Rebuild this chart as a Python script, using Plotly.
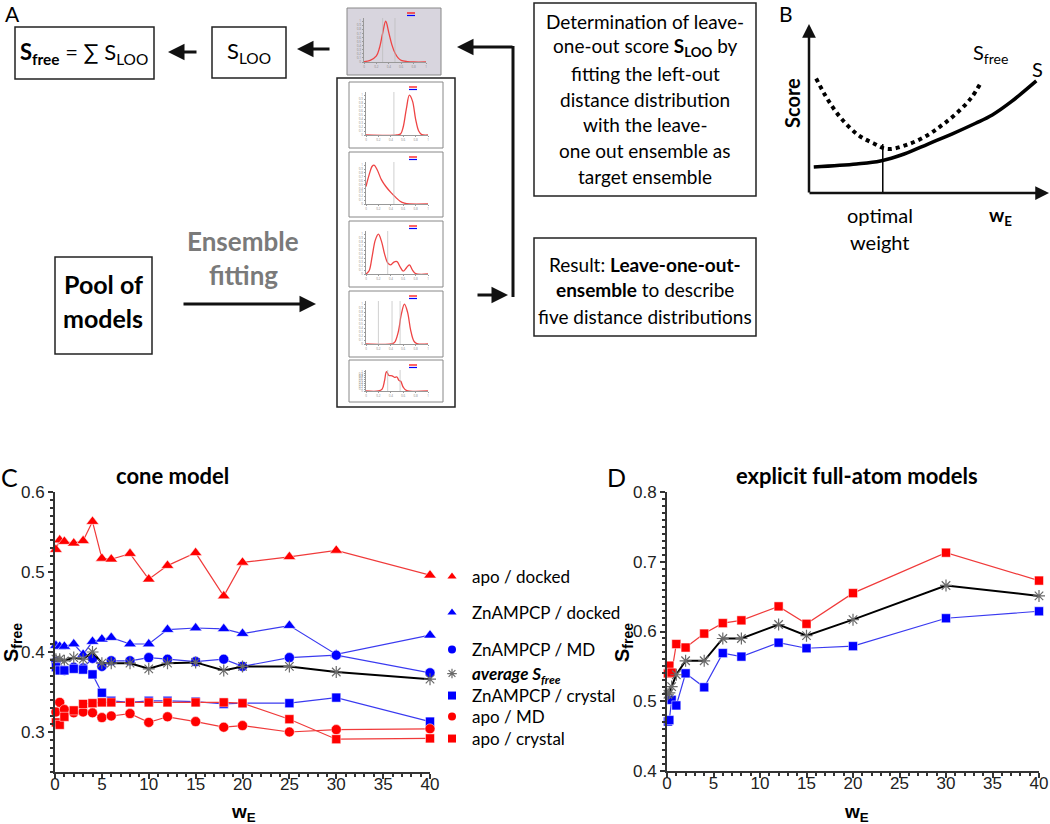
import plotly.graph_objects as go

W, H = 1050, 824
FONT = "Lato, 'Open Sans', sans-serif"
AXFONT = "Arial, 'Liberation Sans', sans-serif"

# ---- panel C: cone model ----
we_cone = [0.1, 0.5, 1, 2, 3, 4, 5, 6, 8, 10, 12, 15, 18, 20, 25, 30, 40]
apo_docked = [0.528, 0.540, 0.538, 0.536, 0.539, 0.563, 0.517, 0.516, 0.523, 0.491, 0.508, 0.524, 0.470, 0.512, 0.519, 0.527, 0.496]
zn_docked = [0.408, 0.407, 0.407, 0.410, 0.397, 0.413, 0.416, 0.418, 0.410, 0.410, 0.428, 0.430, 0.429, 0.423, 0.433, 0.397, 0.421]
zn_md = [0.388, 0.378, 0.377, 0.381, 0.380, 0.392, 0.382, 0.389, 0.389, 0.393, 0.391, 0.388, 0.391, 0.382, 0.393, 0.396, 0.374]
avg_cone = [0.391, 0.391, 0.389, 0.393, 0.391, 0.400, 0.386, 0.386, 0.386, 0.379, 0.386, 0.387, 0.377, 0.382, 0.382, 0.375, 0.366]
zn_crystal = [0.381, 0.377, 0.377, 0.379, 0.378, 0.372, 0.349, 0.339, 0.337, 0.339, 0.339, 0.338, 0.335, 0.336, 0.336, 0.343, 0.313]
apo_md = [0.325, 0.337, 0.328, 0.324, 0.325, 0.324, 0.318, 0.320, 0.323, 0.312, 0.319, 0.313, 0.306, 0.308, 0.300, 0.303, 0.304]
apo_crystal = [0.312, 0.309, 0.319, 0.327, 0.335, 0.336, 0.337, 0.337, 0.337, 0.337, 0.337, 0.337, 0.337, 0.336, 0.316, 0.291, 0.292]

# ---- panel D: explicit full-atom models ----
we_atom = [0.1, 0.25, 0.5, 1, 2, 4, 6, 8, 12, 15, 20, 30, 40]
atom_apo = [0.540, 0.551, 0.541, 0.582, 0.577, 0.597, 0.612, 0.616, 0.636, 0.611, 0.655, 0.713, 0.673]
atom_zn = [0.471, 0.473, 0.502, 0.494, 0.540, 0.520, 0.569, 0.564, 0.584, 0.576, 0.579, 0.619, 0.629]
atom_avg = [0.510, 0.512, 0.521, 0.538, 0.558, 0.558, 0.590, 0.590, 0.610, 0.594, 0.617, 0.666, 0.651]

# ---- panel B: schematic score curves ----
b_s_x = [0.2, 2, 3, 4, 5, 6, 7, 7.7, 8.5, 9.55]
b_s_y = [1.57, 1.75, 1.93, 2.35, 2.95, 3.55, 4.2, 4.7, 5.5, 6.75]
b_free_x = [0.3, 0.8, 1.35, 2.06, 2.7, 3.3, 4.2, 5.0, 5.6, 6.2, 6.8, 7.2]
b_free_y = [6.9, 5.6, 4.5, 3.5, 3.0, 2.65, 2.95, 3.5, 4.1, 4.8, 5.7, 6.6]
b_opt = 3.1

# ---- panel A: small distance distributions ----
mini_x = [
    [0, 0.1, 0.2, 0.25, 0.3, 0.35, 0.4, 0.45, 0.5, 0.55, 0.6, 0.7, 0.8, 1.0],
    [0, 0.5, 0.56, 0.6, 0.65, 0.7, 0.75, 0.8, 0.85, 0.9, 1.0],
    [0, 0.05, 0.1, 0.13, 0.18, 0.25, 0.32, 0.4, 0.48, 0.55, 0.62, 0.7, 1.0],
    [0, 0.05, 0.1, 0.15, 0.2, 0.25, 0.3, 0.35, 0.4, 0.45, 0.5, 0.55, 0.6, 0.65, 0.7, 0.75, 0.8, 1.0],
    [0, 0.4, 0.46, 0.52, 0.57, 0.62, 0.67, 0.72, 0.77, 0.82, 1.0],
    [0, 0.2, 0.26, 0.3, 0.33, 0.37, 0.42, 0.46, 0.5, 0.53, 0.56, 0.6, 0.65, 1.0],
]
mini_y = [
    [0.01, 0.04, 0.15, 0.35, 0.7, 1.0, 0.72, 0.42, 0.22, 0.1, 0.04, 0.01, 0, 0],
    [0, 0, 0.03, 0.2, 0.65, 1.0, 0.85, 0.4, 0.1, 0.01, 0],
    [0.45, 0.75, 0.97, 1.0, 0.88, 0.62, 0.45, 0.3, 0.17, 0.07, 0.02, 0, 0],
    [0, 0.08, 0.45, 0.85, 1.0, 0.82, 0.5, 0.28, 0.23, 0.3, 0.31, 0.18, 0.07, 0.15, 0.23, 0.1, 0.01, 0],
    [0, 0, 0.04, 0.3, 0.75, 1.0, 0.8, 0.35, 0.08, 0.01, 0],
    [0, 0, 0.1, 0.55, 1.0, 0.8, 0.78, 0.7, 0.72, 0.55, 0.5, 0.2, 0.03, 0],
]
mini_guides = [[0.3, 0.5], [0.45], [0.45], [0.35], [0.2, 0.42, 0.55], [0.35, 0.55]]


def px(x):
    return x / W


def py(y):
    return 1 - y / H


fig = go.Figure()

STAR = '#6a6a6a'
red_line = dict(color='#f03a3a', width=1.2)
blue_line = dict(color='#3a3af0', width=1.2)
series_c = [
    (apo_docked, 'apo / docked', 'triangle-up', 'red', red_line, 11),
    (zn_docked, 'ZnAMPCP / docked', 'triangle-up', 'blue', blue_line, 11),
    (zn_md, 'ZnAMPCP / MD', 'circle', 'blue', blue_line, 10),
    (avg_cone, '<b><i>average S<sub>free</sub></i></b>', 'asterisk-open', STAR, dict(color='black', width=2), 10),
    (zn_crystal, 'ZnAMPCP / crystal', 'square', 'blue', blue_line, 9),
    (apo_md, 'apo / MD', 'circle', 'red', red_line, 10),
    (apo_crystal, 'apo / crystal', 'square', 'red', red_line, 9),
]
legend_rows = [577, 613, 650, 674, 696, 717, 739]


def marker(sym, col, size, outline=True):
    if sym == 'asterisk-open':
        return dict(symbol=sym, size=size, color=col, line=dict(color=col, width=1.2))
    if outline:
        return dict(symbol=sym, size=size, color=col, line=dict(color='white', width=0.5))
    return dict(symbol=sym, size=size, color=col)


for vals, name, sym, col, ln, size in series_c:
    fig.add_trace(go.Scatter(x=we_cone, y=vals, mode='lines+markers', line=ln, marker=marker(sym, col, size),
                             showlegend=False, cliponaxis=False, xaxis='x', yaxis='y'))
for k, (vals, name, sym, col, ln, size) in enumerate(series_c):
    fig.add_trace(go.Scatter(x=[None], y=[None], mode='markers', marker=marker(sym, col, 8, outline=False),
                             name=name, legend='legend' if k == 0 else 'legend%d' % (k + 1),
                             xaxis='x', yaxis='y'))

# D traces
for vals, sym, col, ln, size in [
    (atom_zn, 'square', 'blue', blue_line, 9),
    (atom_apo, 'square', 'red', red_line, 9),
    (atom_avg, 'asterisk-open', STAR, dict(color='black', width=2), 10),
]:
    fig.add_trace(go.Scatter(x=we_atom, y=vals, mode='lines+markers', line=ln, marker=marker(sym, col, size),
                             showlegend=False, cliponaxis=False, xaxis='x2', yaxis='y2'))

# invisible copies so the label-only overlay axes get drawn
fig.add_trace(go.Scatter(x=we_cone, y=avg_cone, mode='markers', marker=dict(opacity=0), hoverinfo='skip',
                         showlegend=False, xaxis='x10', yaxis='y'))
fig.add_trace(go.Scatter(x=we_atom, y=atom_avg, mode='markers', marker=dict(opacity=0), hoverinfo='skip',
                         showlegend=False, xaxis='x11', yaxis='y2'))

# B traces
fig.add_trace(go.Scatter(x=b_free_x, y=b_free_y, mode='lines', line=dict(color='black', width=4, dash='dot', shape='spline'),
                         showlegend=False, xaxis='x3', yaxis='y3'))
fig.add_trace(go.Scatter(x=b_s_x, y=b_s_y, mode='lines', line=dict(color='black', width=3.5, shape='spline'),
                         showlegend=False, xaxis='x3', yaxis='y3'))

# A mini plots
mini_boxes = [(347, 8, 441, 75), (349, 82, 443, 148), (349, 152, 443, 217),
              (349, 221, 443, 287), (349, 291, 443, 357), (349, 360, 443, 402)]
shapes = []
for i, (xs, ys) in enumerate(zip(mini_x, mini_y)):
    n = i + 4
    fig.add_trace(go.Scatter(x=xs, y=ys, mode='lines', line=dict(color='#ee4444', width=1.3, shape='spline'),
                             showlegend=False, xaxis='x%d' % n, yaxis='y%d' % n))
    for g in mini_guides[i]:
        shapes.append(dict(type='line', xref='x%d' % n, yref='y%d domain' % n, x0=g, x1=g, y0=0, y1=1,
                           line=dict(color='#bbbbbb', width=0.7)))

layout_axes = {}
ax_common = dict(showgrid=False, zeroline=False, showline=True, linecolor='#333', linewidth=1.8,
                 ticks='outside', ticklen=5, tickwidth=1.5, tickcolor='#333', automargin=False,
                 tickfont=dict(family=AXFONT, size=17, color='#222'))
lab_common = dict(showgrid=False, zeroline=False, showline=False, ticks='', automargin=False,
                  tickfont=dict(family=AXFONT, size=17, color='#222'))
xr_c, xr_d = [px(55), px(430)], [px(667), px(1039)]
layout_axes['xaxis'] = dict(ax_common, domain=xr_c, range=[0, 40], dtick=5, anchor='y', showticklabels=False,
                            minor=dict(dtick=1, ticks='outside', ticklen=3, tickcolor='#333'))
layout_axes['yaxis'] = dict(ax_common, domain=[py(772), py(492)], range=[0.25, 0.6], tickvals=[0.3, 0.4, 0.5, 0.6],
                            tickformat='.1f', anchor='x',
                            minor=dict(dtick=0.01, ticks='outside', ticklen=3, tickcolor='#333'))
layout_axes['xaxis2'] = dict(ax_common, domain=xr_d, range=[0, 40], dtick=5, anchor='y2', showticklabels=False,
                             minor=dict(dtick=1, ticks='outside', ticklen=3, tickcolor='#333'))
layout_axes['yaxis2'] = dict(ax_common, domain=[py(771), py(492)], range=[0.4, 0.8], dtick=0.1, tickformat='.1f',
                             anchor='x2', minor=dict(dtick=0.01, ticks='outside', ticklen=3, tickcolor='#333'))
# label-only axes so the x tick labels sit close to the axis line
layout_axes['xaxis10'] = dict(lab_common, domain=xr_c, range=[0, 40], dtick=5, anchor='y', overlaying='x')
layout_axes['xaxis11'] = dict(lab_common, domain=xr_d, range=[0, 40], dtick=5, anchor='y2', overlaying='x2')
layout_axes['xaxis3'] = dict(domain=[px(809), px(1047)], range=[0, 10], visible=False, anchor='y3', automargin=False)
layout_axes['yaxis3'] = dict(domain=[py(193), py(27)], range=[0, 10], visible=False, anchor='x3', automargin=False)

shapes.append(dict(type='line', xref='x3', yref='y3', x0=b_opt, x1=b_opt, y0=-0.6, y1=2.95,
                   line=dict(color='black', width=1.5)))

for i, (x0, y0, x1, y1) in enumerate(mini_boxes):
    n = i + 4
    fill = '#d8d5de' if i == 0 else 'white'
    shapes.append(dict(type='rect', xref='paper', yref='paper', x0=px(x0), x1=px(x1), y0=py(y1), y1=py(y0),
                       line=dict(color='#888', width=1), fillcolor=fill, layer='below'))
    bot = y1 - 13 if i < 5 else y1 - 11
    layout_axes['xaxis%d' % n] = dict(domain=[px(x0 + 17), px(x1 - 15)], range=[0, 1], anchor='y%d' % n,
                                      showgrid=False, zeroline=False, showline=True, linecolor='#999', linewidth=0.8,
                                      ticks='outside', ticklen=1.5, tickcolor='#999', dtick=0.2, automargin=False,
                                      tickfont=dict(size=3, color='#888'))
    layout_axes['yaxis%d' % n] = dict(domain=[py(bot), py(y0 + 10)], range=[0, 1.08], anchor='x%d' % n,
                                      showgrid=False, zeroline=False, showline=True, linecolor='#999', linewidth=0.8,
                                      ticks='outside', ticklen=1.5, tickcolor='#999', dtick=0.1, automargin=False,
                                      tickfont=dict(size=3, color='#888'))
    # tiny legend swatches
    shapes.append(dict(type='line', xref='paper', yref='paper', x0=px(x1 - 34), x1=px(x1 - 26),
                       y0=py(y0 + 5), y1=py(y0 + 5), line=dict(color='red', width=1.2)))
    shapes.append(dict(type='line', xref='paper', yref='paper', x0=px(x1 - 34), x1=px(x1 - 26),
                       y0=py(y0 + 7.5), y1=py(y0 + 7.5), line=dict(color='blue', width=1.2)))

# boxes of the flow diagram
for (x0, y0, x1, y1) in [(15, 27, 154, 79), (212, 27, 286, 78), (337, 78, 455, 407),
                         (534, 3, 756, 196), (534, 238, 756, 336), (55, 257, 152, 354)]:
    shapes.append(dict(type='rect', xref='paper', yref='paper', x0=px(x0), x1=px(x1), y0=py(y1), y1=py(y0),
                       line=dict(color='#222', width=1.5)))
shapes.append(dict(type='line', xref='paper', yref='paper', x0=px(513), x1=px(513), y0=py(297), y1=py(46),
                   line=dict(color='#111', width=3)))

ann = []


def txt(x, y, s, size, color='black', family=FONT, xanchor='center', angle=0):
    ann.append(dict(x=px(x), y=py(y), xref='paper', yref='paper', text=s, showarrow=False,
                    font=dict(size=size, family=family, color=color), xanchor=xanchor, yanchor='middle',
                    textangle=angle))


def arrow(tx, ty, fx, fy, width=3):
    ann.append(dict(x=px(tx), y=py(ty), xref='paper', yref='paper', ax=fx - tx, ay=fy - ty, text='',
                    showarrow=True, arrowhead=2, arrowsize=1.1, arrowwidth=width, arrowcolor='#111'))


# panel labels
txt(12, 14, 'A', 21)
txt(786, 14, 'B', 21)
txt(9, 477, 'C', 25)
txt(616, 477, 'D', 25)

# panel A texts
txt(84, 53, '<b>S<sub>free</sub></b> = ∑ S<sub>LOO</sub>', 22)
txt(249, 52, 'S<sub>LOO</sub>', 22)
det_lines = ['Determination of leave-', 'one-out score <b>S<sub>LOO</sub></b> by', 'fitting the left-out',
             'distance distribution', 'with the leave-', 'one out ensemble as', 'target ensemble']
for k, s in enumerate(det_lines):
    txt(645, 21 + 26 * k, s, 19)
res_lines = ['Result: <b>Leave-one-out-</b>', '<b>ensemble</b> to describe', 'five distance distributions']
for k, s in enumerate(res_lines):
    txt(645, 264 + 26 * k, s, 19)
txt(103, 284, '<b>Pool of</b>', 25)
txt(103, 318, '<b>models</b>', 25)
txt(243, 241, '<b>Ensemble</b>', 26, color='#7a7a7a')
txt(243, 275, '<b>fitting</b>', 26, color='#7a7a7a')

arrow(168, 52, 198, 52)
arrow(297, 49, 331, 49)
arrow(457, 47, 514, 47)
arrow(508, 295, 476, 295)
arrow(316, 304, 182, 304)

# panel B texts and axes
arrow(809, 24, 809, 194, width=2.5)
arrow(1049, 193, 808, 193, width=2.5)
txt(792, 103, '<b>Score</b>', 20, angle=-90)
txt(880, 215, 'optimal', 20)
txt(880, 242, 'weight', 20)
txt(1000, 216, '<b>w<sub>E</sub></b>', 19)
txt(990, 54, 'S<sub>free</sub>', 20)
txt(1037, 69, 'S', 20)

# panel C/D titles and axis titles
txt(173, 475, '<b>cone model</b>', 22)
txt(857, 475, '<b>explicit full-atom models</b>', 22)
txt(12, 643, '<b>S<sub>free</sub></b>', 20, family=AXFONT, angle=-90)
txt(623, 643, '<b>S<sub>free</sub></b>', 20, family=AXFONT, angle=-90)
txt(243, 813, '<b>w<sub>E</sub></b>', 19, family=AXFONT)
txt(856, 813, '<b>w<sub>E</sub></b>', 19, family=AXFONT)

leg_common = dict(font=dict(family=FONT, size=17, color='black'), bgcolor='rgba(0,0,0,0)',
                  xanchor='left', x=px(432), yanchor='middle', itemsizing='trace')
legends = {}
for k, row in enumerate(legend_rows):
    key = 'legend' if k == 0 else 'legend%d' % (k + 1)
    legends[key] = dict(leg_common, y=py(row))

fig.update_layout(
    width=W, height=H, margin=dict(l=0, r=0, t=0, b=0),
    paper_bgcolor='white', plot_bgcolor='rgba(0,0,0,0)',
    shapes=shapes, annotations=ann,
    **legends,
    **layout_axes
)

fig.write_html("out.html", config={'displayModeBar': False},
               post_script="document.body.style.margin='0px';")
